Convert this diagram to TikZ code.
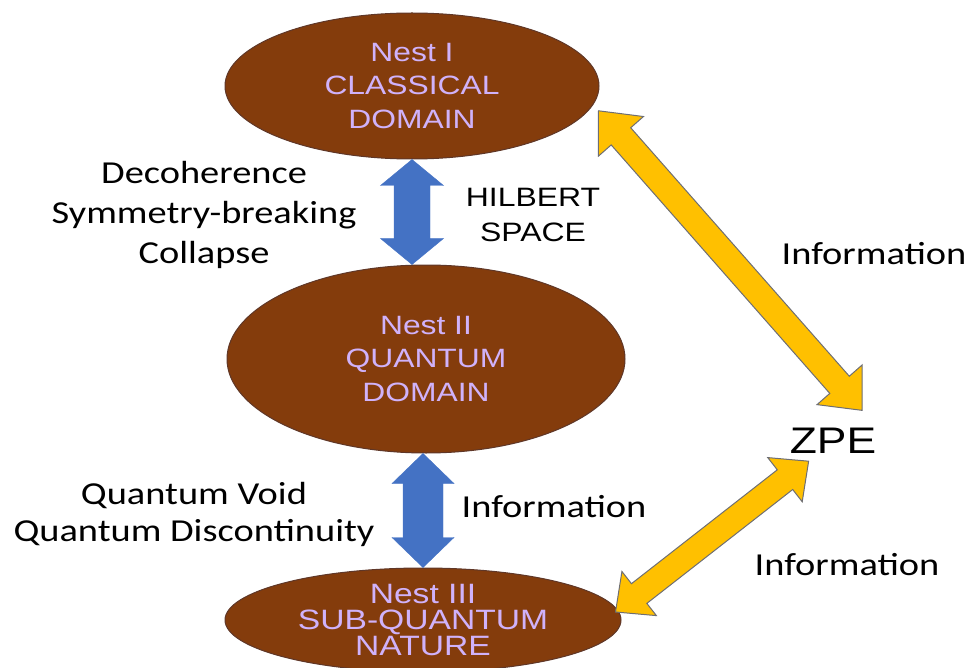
\documentclass[tikz,border=0pt]{standalone}
\usepackage{fontspec}
\usetikzlibrary{calc,shapes.geometric}

\newfontfamily\calibfont{Carlito}[FakeStretch=1.2]
\newfontfamily\arialfont{Liberation Sans}[FakeStretch=1.2]

\definecolor{nestbrown}{RGB}{132,60,12}
\definecolor{nestedge}{RGB}{95,55,40}
\definecolor{nesttext}{RGB}{208,178,250}
\definecolor{flowblue}{RGB}{68,114,196}
\definecolor{infoyellow}{RGB}{255,192,0}
\definecolor{infoedge}{RGB}{110,110,115}

\begin{document}
\begin{tikzpicture}[x=1pt,y=-1pt,
	nest/.style={ellipse, draw=nestedge, line width=1pt, fill=nestbrown,
		text=nesttext, align=center, inner sep=0pt},
	flow arrow/.style={fill=flowblue, draw=flowblue, line width=0.4pt},
	info arrow/.style={fill=infoyellow, draw=infoedge, line width=1pt},
	side text/.style={font=\calibfont\fontsize{32}{40}\selectfont,
		align=center, inner sep=0pt},
	caps text/.style={font=\arialfont\fontsize{26.6}{35}\selectfont,
		align=center, inner sep=0pt}]

	\useasboundingbox (0,0) rectangle (971,668);

	% double block arrow: style, tip, tip, shaft half width, head half width, head length
	\def\fatarrow#1#2#3#4#5#6{%
		\coordinate (hA) at ($(#2)!#6!(#3)$);
		\coordinate (hB) at ($(#3)!#6!(#2)$);
		\draw[#1] (#2) -- ($(hA)!#5!90:(#3)$) -- ($(hA)!#4!90:(#3)$)
			-- ($(hB)!#4!-90:(#2)$) -- ($(hB)!#5!-90:(#2)$) -- (#3)
			-- ($(hB)!#5!90:(#2)$) -- ($(hB)!#4!90:(#2)$)
			-- ($(hA)!#4!-90:(#3)$) -- ($(hA)!#5!-90:(#3)$) -- cycle;
	}

	% nests
	\node[nest, minimum width=374pt, minimum height=146pt,
		font=\arialfont\fontsize{26.5}{33.5}\selectfont]
		(E1) at (412,86) {Nest I\\CLASSICAL\\DOMAIN};
	\node[nest, minimum width=398pt, minimum height=188pt,
		font=\arialfont\fontsize{26.5}{33.5}\selectfont]
		(E2) at (426,359) {Nest II\\QUANTUM\\DOMAIN};
	\node[nest, minimum width=396pt, minimum height=104pt,
		font=\arialfont\fontsize{28}{26}\selectfont]
		(E3) at (423,620) {Nest III\\SUB-QUANTUM\\NATURE};

	% ZPE
	\node[font=\arialfont\fontsize{37}{40}\selectfont, inner sep=0pt, anchor=base]
		(ZPE) at (833,453) {ZPE};

	% labels
	\node[side text] (collapse) at (204,215)
		{Decoherence\\Symmetry-breaking\\Collapse};
	\node[caps text] (hilbert) at (533,215) {HILBERT\\SPACE};
	\node[side text, font=\calibfont\fontsize{32}{37}\selectfont] (void) at (194,514)
		{Quantum Void\\Quantum Discontinuity};
	\node[side text, anchor=base] (infomid) at (554,517) {Information};
	\node[side text, anchor=base] (infoup) at (874,265) {Information};
	\node[side text, anchor=base] (infolow) at (847,575) {Information};

	% tips of the yellow arrows
	\coordinate (Y1) at ($(E1.-8)+(10,0)$);
	\coordinate (Y2) at ($(ZPE.north)+(29,-17)$);
	\coordinate (Y3) at ($(E3.0)+(-6,-8)$);
	\coordinate (Y4) at ($(ZPE.south west)+(19,8)$);

	% blue arrows between nests
	\fatarrow{flow arrow}{E1.south}{E1.south |- E2.north}{18pt}{31.5pt}{26pt}
	\fatarrow{flow arrow}{E3.north |- E2.south}{E3.north}{20pt}{31pt}{30pt}

	% yellow arrows to ZPE
	\fatarrow{info arrow}{Y1}{Y2}{13pt}{30pt}{34pt}
	\fatarrow{info arrow}{Y3}{Y4}{12.5pt}{28pt}{30pt}

\end{tikzpicture}
\end{document}
